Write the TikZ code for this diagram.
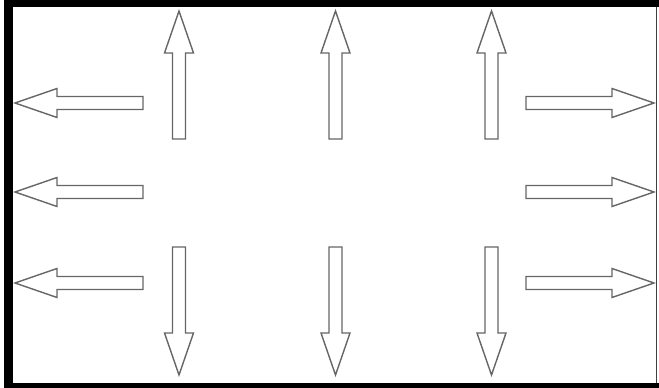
\documentclass[tikz,border=0pt]{standalone}
\usepackage{tikz}

\tikzset{
  outarrow/.pic={\draw[draw=black!60,line width=1.4pt,fill=white,line join=miter]
    (0,-6.5) -- (86,-6.5) -- (86,-14.5) -- (128,0) -- (86,14.5) -- (86,6.5) -- (0,6.5) -- cycle;}
}

\begin{document}
\begin{tikzpicture}[x=1pt,y=1pt]
\useasboundingbox (0,0) rectangle (659,388);
% frame
\fill[black] (4,0) rectangle (13,388);
\fill[black] (4,381) rectangle (659,388);
\fill[black] (4,0) rectangle (659,5);
\draw[black!75,line width=1.2pt] (656.5,5) -- (656.5,381);
% upward
\pic[rotate=90] at (179,249) {outarrow};
\pic[rotate=90] at (335.5,249) {outarrow};
\pic[rotate=90] at (491.5,249) {outarrow};
% downward
\pic[rotate=-90] at (179,141) {outarrow};
\pic[rotate=-90] at (335.5,141) {outarrow};
\pic[rotate=-90] at (491.5,141) {outarrow};
% left
\pic[rotate=180] at (143,285) {outarrow};
\pic[rotate=180] at (143,196) {outarrow};
\pic[rotate=180] at (143,105) {outarrow};
% right
\pic at (526,285) {outarrow};
\pic at (526,196) {outarrow};
\pic at (526,105) {outarrow};
\end{tikzpicture}
\end{document}
